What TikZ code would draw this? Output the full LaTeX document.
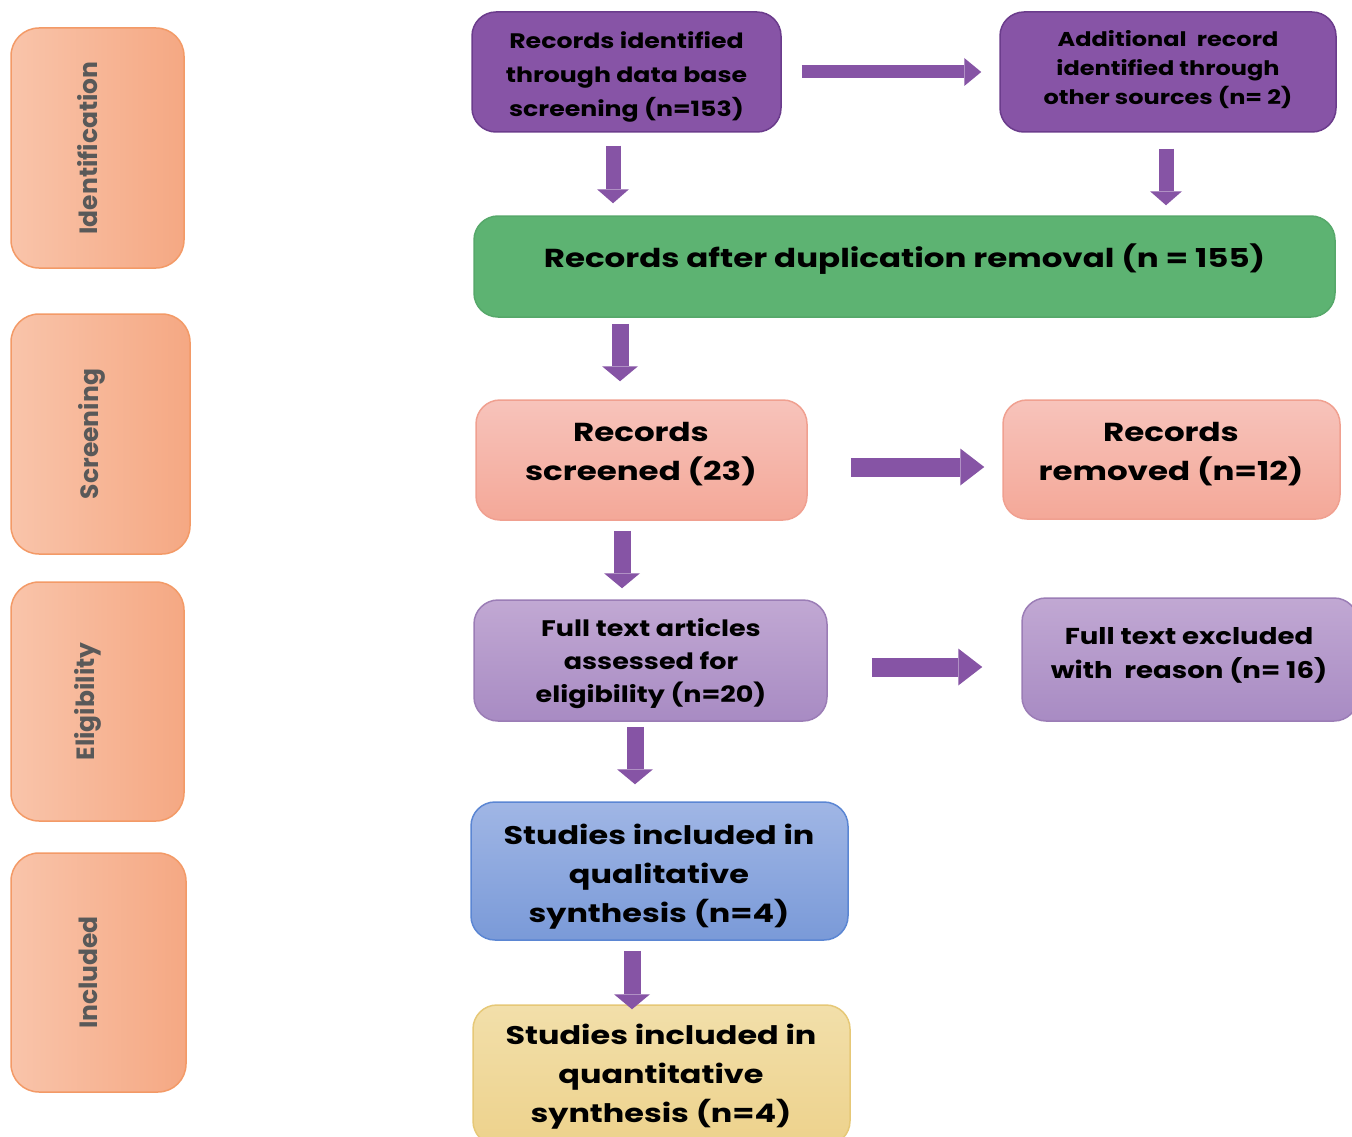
\documentclass[tikz,border=0pt]{standalone}
\usepackage{fontspec}
\setmainfont{Poppins}
\newfontfamily\wideA[FakeStretch=1.2]{Poppins}
\newfontfamily\wideB[FakeStretch=1.25]{Poppins}
\usetikzlibrary{arrows.meta}
\definecolor{darkpurple}{HTML}{8754A6}
\definecolor{darkpurpleB}{HTML}{6B3C8C}
\definecolor{greenF}{HTML}{5DB372}
\definecolor{greenB}{HTML}{56A86A}
\definecolor{pinkT}{HTML}{F7C3BB}
\definecolor{pinkBo}{HTML}{F4A898}
\definecolor{pinkB}{HTML}{F0A090}
\definecolor{lpurT}{HTML}{C1A8D3}
\definecolor{lpurBo}{HTML}{A88BC3}
\definecolor{lpurB}{HTML}{9B7DB6}
\definecolor{blueT}{HTML}{A0B6E5}
\definecolor{blueBo}{HTML}{7A9AD8}
\definecolor{blueB}{HTML}{5B86D3}
\definecolor{yelT}{HTML}{F2DFAA}
\definecolor{yelBo}{HTML}{EDD28C}
\definecolor{yelB}{HTML}{E6C877}
\definecolor{phL}{HTML}{F9C4AA}
\definecolor{phR}{HTML}{F5A883}
\definecolor{phB}{HTML}{F39A67}
\definecolor{arrowpurple}{HTML}{8654A5}
\definecolor{phtext}{HTML}{595959}
\begin{document}
\begin{tikzpicture}[x=1pt,y=-1pt,
  box/.style={rounded corners=24pt, line width=1.5pt, inner sep=0pt},
  phasebox/.style={box, rounded corners=28pt, left color=phL, right color=phR, draw=phB},
  phasetext/.style={rotate=90, text=phtext, font=\fontsize{25}{29}\selectfont\bfseries},
  purplebox/.style={box, fill=darkpurple, draw=darkpurpleB},
  greenbox/.style={box, fill=greenF, draw=greenB},
  pinkbox/.style={box, top color=pinkT, bottom color=pinkBo, draw=pinkB},
  lpurbox/.style={box, top color=lpurT, bottom color=lpurBo, draw=lpurB},
  bluebox/.style={box, top color=blueT, bottom color=blueBo, draw=blueB},
  yelbox/.style={box, top color=yelT, bottom color=yelBo, draw=yelB},
  txt/.style={align=center, text=black, inner sep=0pt},
  arrA/.style={draw=arrowpurple, line width=13pt, -{Triangle[width=28pt,length=17pt,line width=0pt]}},
  arrV/.style={draw=arrowpurple, line width=15pt, -{Triangle[width=32pt,length=14pt,line width=0pt]}},
  arrW/.style={draw=arrowpurple, line width=17pt, -{Triangle[width=36pt,length=15pt,line width=0pt]}},
  arrH/.style={draw=arrowpurple, line width=19pt, -{Triangle[width=37pt,length=24pt,line width=0pt]}}
]
\useasboundingbox (0,0) rectangle (1352,1137);
\clip (0,0) rectangle (1352,1137);

% phase boxes
\node[phasebox, minimum width=173pt, minimum height=240pt] (P1) at (97.5,148) {};
\node[phasebox, minimum width=179pt, minimum height=240pt] (P2) at (100.5,434) {};
\node[phasebox, minimum width=173pt, minimum height=239pt] (P3) at (97.5,701.5) {};
\node[phasebox, minimum width=175pt, minimum height=239pt] (P4) at (98.5,972.5) {};
\node[phasetext] (P1t) at ([xshift=-10pt]P1.center) {Identification};
\node[phasetext] (P2t) at ([xshift=-9pt]P2.center) {Screening};
\node[phasetext] (P3t) at ([xshift=-10pt]P3.center) {Eligibility};
\node[phasetext] (P4t) at ([xshift=-10pt]P4.center) {Included};

% flow boxes
\node[purplebox, minimum width=309pt, minimum height=120pt] (A) at (626.5,72) {};
\node[purplebox, minimum width=336pt, minimum height=120pt] (B) at (1168,72) {};
\node[greenbox, minimum width=861pt, minimum height=101pt] (C) at (904.5,266.5) {};
\node[pinkbox, minimum width=331pt, minimum height=120pt] (D) at (641.5,460) {};
\node[pinkbox, minimum width=337pt, minimum height=119pt] (E) at (1171.5,459.5) {};
\node[lpurbox, minimum width=353pt, minimum height=121pt] (F) at (650.5,660.5) {};
\node[lpurbox, minimum width=336pt, minimum height=123pt] (G) at (1190,659.5) {};
\node[bluebox, minimum width=377pt, minimum height=138pt] (H) at (659.5,871) {};
\node[yelbox, minimum width=377pt, minimum height=140pt] (I) at (661.5,1075) {};

% texts
\node[txt, font=\wideA\fontsize{21}{34}\selectfont\bfseries] (At) at (626.5,77)
  {Records identified\\through data base\\screening (n=153)};
\node[txt, font=\wideA\fontsize{20}{29}\selectfont\bfseries] (Bt) at (1168,70)
  {Additional\ \ record\\identified through\\other sources (n= 2)};
\node[txt, font=\wideB\fontsize{26}{32}\selectfont\bfseries] (Ct) at (904.5,259)
  {Records after duplication removal (n = 155)};
\node[txt, font=\wideB\fontsize{26}{39}\selectfont\bfseries] (Dt) at (641,454)
  {Records\\screened (23)};
\node[txt, font=\wideB\fontsize{26}{39}\selectfont\bfseries] (Et) at (1171,454)
  {Records\\removed (n=12)};
\node[txt, font=\wideA\fontsize{22.5}{33}\selectfont\bfseries] (Ft) at (651,664)
  {Full text articles\\assessed for\\eligibility (n=20)};
\node[txt, font=\wideA\fontsize{23}{34}\selectfont\bfseries] (Gt) at (1189,655)
  {Full text excluded\\with\ \ reason (n= 16)};
\node[txt, font=\wideB\fontsize{25.5}{39}\selectfont\bfseries] (Ht) at (659,877)
  {Studies included in\\qualitative\\synthesis (n=4)};
\node[txt, font=\wideB\fontsize{25.5}{39}\selectfont\bfseries] (It) at (661,1077)
  {Studies included in\\quantitative\\synthesis (n=4)};

% arrows
\draw[arrA, shorten <=20pt, shorten >=18pt] (A.east) -- (B.west);
\draw[arrV, shorten <=13pt, shorten >=12pt] ([xshift=-13.5pt]A.south) -- ([xshift=-13.5pt]A.south |- C.north);
\draw[arrV, shorten <=16pt, shorten >=10pt] ([xshift=-2pt]B.south) -- ([xshift=-2pt]B.south |- C.north);
\draw[arrW, shorten <=6pt, shorten >=18pt] ([xshift=-21.5pt]D.north |- C.south) -- ([xshift=-21.5pt]D.north);
\draw[arrH, shorten <=43pt, shorten >=18pt] ([yshift=-7pt]D.east) -- ([yshift=-7pt]D.east -| E.west);
\draw[arrW, shorten <=10pt, shorten >=11pt] ([xshift=-19.5pt]D.south) -- ([xshift=-19.5pt]D.south |- F.north);
\draw[arrH, shorten <=44pt, shorten >=39pt] ([yshift=-6.5pt]F.east) -- ([yshift=-6.5pt]F.east -| G.west);
\draw[arrW, shorten <=5pt, shorten >=17pt] ([xshift=-15.5pt]F.south) -- ([xshift=-15.5pt]F.south |- H.north);
\draw[arrW, shorten <=10pt, shorten >=-5pt] ([xshift=-27.5pt]H.south) -- ([xshift=-27.5pt]H.south |- I.north);
\end{tikzpicture}
\end{document}
